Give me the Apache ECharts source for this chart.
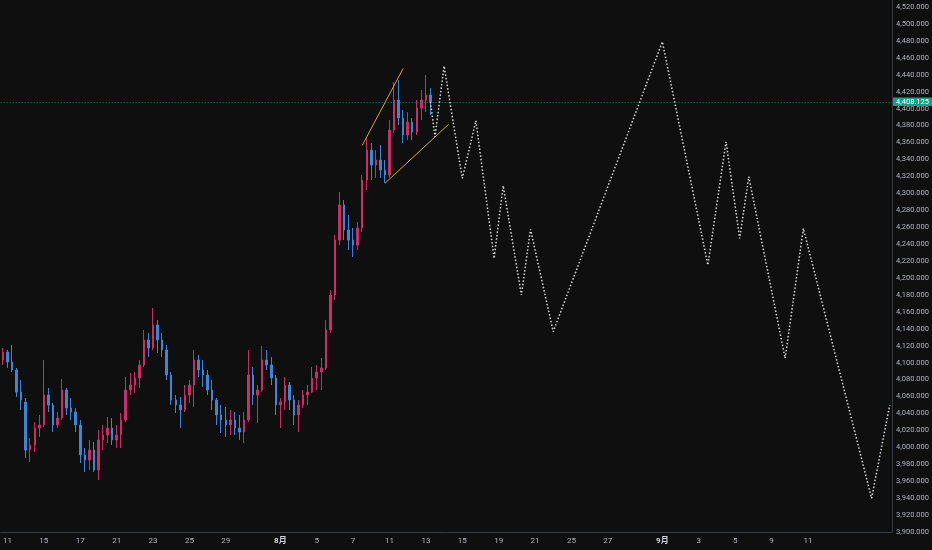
<!DOCTYPE html>
<html>
<head>
<meta charset="utf-8">
<title>price projection</title>
<script src="https://cdn.jsdelivr.net/npm/echarts@6/dist/echarts.min.js"></script>
<style>
html,body{margin:0;padding:0;background:#0f0f0f;}
#chart{width:932px;height:550px;}
</style>
</head>
<body>
<div id="chart"></div>
<script>
// 4 slots per trading day, slot 1 = first bar of Jul 11
var slotCount = 196;
var tickSlots  = [1, 9, 17, 25, 33, 41, 49, 61, 69, 77, 85, 93, 101, 109, 117, 125, 133, 145, 153, 161, 169, 177];
var tickLabels = ['11','15','17','21','23','25','29','8月','5','7','11','13','15','19','21','25','27','9月','3','5','9','11'];

// [open, close, low, high]
var candles = [
    [4103.1, 4112.6, 4097.2, 4117.3], [4112.6, 4100.8, 4093.7, 4115.0], [4100.8, 4091.3, 4089.0, 4120.8],
    [4091.3, 4065.3, 4059.4, 4093.7], [4065.3, 4055.9, 4044.1, 4079.5], [4053.5, 3996.8, 3987.4, 4058.3],
    [3996.8, 4002.8, 3982.7, 4011.0], [4002.8, 4022.8, 3994.5, 4029.9], [4022.8, 4026.4, 4012.2, 4038.2],
    [4026.4, 4061.8, 4024.0, 4103.1], [4061.8, 4050.0, 4041.7, 4070.1], [4050.0, 4026.4, 4018.1, 4052.4],
    [4026.4, 4034.6, 4022.8, 4041.7], [4034.6, 4067.7, 4032.3, 4080.7], [4067.7, 4046.4, 4038.2, 4070.1],
    [4046.4, 4041.7, 4032.3, 4058.3], [4041.7, 4026.4, 4018.1, 4046.4], [4026.4, 3990.9, 3981.5, 4032.3],
    [3990.9, 3985.0, 3970.9, 3999.2], [3985.0, 3996.8, 3973.2, 4008.7], [3996.8, 3973.2, 3970.9, 4006.3],
    [3973.2, 4008.7, 3961.4, 4020.4], [4008.7, 4014.6, 3996.8, 4026.4], [4014.6, 4022.8, 4005.1, 4035.8],
    [4022.8, 4008.7, 4002.8, 4034.6], [4008.7, 4014.6, 3999.2, 4026.4], [4014.6, 4032.3, 3999.2, 4040.5],
    [4032.3, 4067.7, 4029.9, 4083.1], [4067.7, 4073.6, 4061.8, 4087.8], [4073.6, 4081.9, 4064.2, 4089.0],
    [4081.9, 4097.2, 4070.1, 4103.1], [4097.2, 4126.8, 4094.9, 4138.6], [4126.8, 4117.3, 4106.7, 4135.1],
    [4117.3, 4144.5, 4115.0, 4164.6], [4144.5, 4126.8, 4111.4, 4150.4], [4126.8, 4115.0, 4106.7, 4135.1],
    [4115.0, 4085.4, 4079.5, 4120.8], [4085.4, 4055.9, 4050.0, 4089.0], [4055.9, 4050.0, 4040.5, 4061.8],
    [4050.0, 4044.1, 4022.8, 4059.4], [4044.1, 4061.8, 4041.7, 4073.6], [4061.8, 4073.6, 4052.4, 4079.5],
    [4073.6, 4103.1, 4047.6, 4115.0], [4103.1, 4091.3, 4083.1, 4109.1], [4091.3, 4085.4, 4071.3, 4103.1],
    [4085.4, 4067.7, 4061.8, 4091.3], [4067.7, 4055.9, 4044.1, 4079.5], [4055.9, 4038.2, 4026.4, 4058.3],
    [4038.2, 4032.3, 4016.9, 4050.0], [4032.3, 4026.4, 4012.2, 4047.6], [4026.4, 4032.3, 4014.6, 4044.1],
    [4032.3, 4022.8, 4014.6, 4041.7], [4022.8, 4018.1, 4008.7, 4038.2], [4018.1, 4032.3, 4005.1, 4041.7],
    [4032.3, 4085.4, 4029.9, 4115.0], [4085.4, 4061.8, 4050.0, 4094.9], [4061.8, 4067.7, 4028.7, 4073.6],
    [4067.7, 4103.1, 4065.3, 4119.7], [4103.1, 4097.2, 4091.3, 4115.0], [4097.2, 4081.9, 4073.6, 4106.7],
    [4081.9, 4050.0, 4038.2, 4085.4], [4050.0, 4053.5, 4022.8, 4058.3], [4053.5, 4073.6, 4044.1, 4083.1],
    [4073.6, 4055.9, 4044.1, 4077.2], [4055.9, 4038.2, 4026.4, 4061.8], [4038.2, 4050.0, 4018.1, 4055.9],
    [4050.0, 4061.8, 4046.4, 4067.7], [4061.8, 4065.3, 4050.0, 4073.6], [4065.3, 4081.9, 4064.2, 4094.9],
    [4081.9, 4089.0, 4067.7, 4097.2], [4089.0, 4093.7, 4067.7, 4105.5], [4093.7, 4138.6, 4091.3, 4150.4],
    [4138.6, 4179.9, 4135.1, 4185.8], [4179.9, 4244.8, 4174.0, 4250.8], [4244.8, 4286.2, 4238.9, 4301.5],
    [4286.2, 4256.7, 4244.8, 4292.1], [4256.7, 4244.8, 4233.0, 4274.4], [4244.8, 4238.9, 4224.8, 4259.1],
    [4238.9, 4259.1, 4233.0, 4266.2], [4259.1, 4315.7, 4254.3, 4321.6], [4315.7, 4351.1, 4303.9, 4366.5],
    [4351.1, 4333.4, 4315.7, 4359.4], [4333.4, 4339.3, 4318.1, 4351.1], [4339.3, 4327.5, 4318.1, 4357.0],
    [4327.5, 4321.6, 4312.2, 4339.3], [4321.6, 4374.7, 4318.1, 4386.6], [4374.7, 4410.2, 4371.2, 4431.4],
    [4410.2, 4388.9, 4380.7, 4433.8], [4388.9, 4368.8, 4359.4, 4398.4], [4368.8, 4384.2, 4362.9, 4396.0],
    [4384.2, 4372.4, 4362.9, 4388.9], [4372.4, 4400.7, 4368.8, 4410.2], [4400.7, 4410.2, 4386.6, 4422.0],
    [4410.2, 4416.1, 4396.0, 4439.7], [4416.1, 4408.125, 4392.5, 4424.3]
];
var lastPrice = 4408.125;

// dotted projection, vertices only
var projSlots  = [94, 95, 97, 101, 104, 108, 110, 114, 116, 121, 145, 155, 159, 162, 164, 172, 176, 191, 195];
var projPrices = [4408.125, 4366.5, 4450.3, 4317.7, 4385.7, 4223.2, 4309.0, 4179.9, 4257.5, 4136.6,
                  4479.0, 4215.3, 4360.9, 4246.8, 4319.6, 4105.1, 4258.6, 3939.8, 4050.0];

// channel lines
var upperSlots = [79, 88];
var upperPrices = [4356.6, 4447.4];
var lowerSlots = [84, 98];
var lowerPrices = [4311.8, 4381.5];

var textColor = '#b2b5be';
var axisColor = '#363a45';
var font = 'Roboto, "Noto Sans CJK SC", sans-serif';

var categories = [];
for (var i = 0; i < slotCount; i++) categories.push('s' + i);
var labelMap = {};
tickSlots.forEach(function (s, k) { labelMap[s] = tickLabels[k]; });

function pairs(xs, ys) {
    return xs.map(function (x, k) { return [x, ys[k]]; });
}

function fmtPrice(v) {
    var s = v.toFixed(3);
    var parts = s.split('.');
    parts[0] = parts[0].replace(/\B(?=(\d{3})+(?!\d))/g, ',');
    return parts.join('.');
}

var myChart = echarts.init(document.getElementById('chart'));
var option = {
    backgroundColor: '#0f0f0f',
    animation: false,
    grid: { left: 0, right: 39, top: 0, bottom: 18 },
    xAxis: {
        type: 'category',
        data: categories,
        boundaryGap: true,
        axisLine: { show: true, lineStyle: { color: axisColor, width: 1 } },
        axisTick: { show: false },
        splitLine: { show: false },
        axisLabel: {
            color: textColor,
            fontSize: 8,
            fontFamily: font,
            margin: 5,
            interval: function (idx) { return labelMap[idx] !== undefined; },
            formatter: function (v, idx) {
                var t = labelMap[idx];
                if (t === undefined) return '';
                return t.indexOf('月') >= 0 ? '{m|' + t + '}' : t;
            },
            rich: {
                m: { fontWeight: 'bold', fontSize: 8, color: '#d1d4dc', fontFamily: font }
            }
        }
    },
    yAxis: {
        type: 'value',
        position: 'right',
        min: 3900,
        max: 4528.3,
        interval: 20,
        scale: true,
        axisLine: { show: true, lineStyle: { color: axisColor, width: 1 } },
        axisTick: { show: false },
        splitLine: { show: false },
        axisLabel: {
            color: textColor,
            fontSize: 7.5,
            fontFamily: font,
            margin: 4,
            showMaxLabel: false,
            formatter: fmtPrice
        }
    },
    series: [
        {
            type: 'candlestick',
            data: candles,
            barWidth: 2,
            itemStyle: {
                color: '#c92f66',
                color0: '#3b86d6',
                borderColor: '#c92f66',
                borderColor0: '#3b86d6',
                borderWidth: 1
            },
            markLine: {
                silent: true,
                symbol: 'none',
                animation: false,
                lineStyle: { color: '#1a7d6b', type: [1, 2], width: 1 },
                label: {
                    position: 'end',
                    distance: 1,
                    formatter: function () { return fmtPrice(lastPrice); },
                    color: '#ffffff',
                    backgroundColor: '#14a08a',
                    padding: [1, 3, 0, 3],
                    fontSize: 7.5,
                    fontFamily: font
                },
                data: [{ yAxis: lastPrice }]
            }
        },
        {
            type: 'line',
            data: pairs(upperSlots, upperPrices),
            symbol: 'none',
            lineStyle: { color: '#e0a030', width: 1 },
            z: 4
        },
        {
            type: 'line',
            data: pairs(lowerSlots, lowerPrices),
            symbol: 'none',
            lineStyle: { color: '#c9b23a', width: 1 },
            z: 4
        },
        {
            type: 'line',
            data: pairs(projSlots, projPrices),
            symbol: 'none',
            lineStyle: { color: '#d6d8dc', width: 1.5, type: [1.5, 2] },
            z: 5
        }
    ]
};
myChart.setOption(option);
</script>
</body>
</html>
